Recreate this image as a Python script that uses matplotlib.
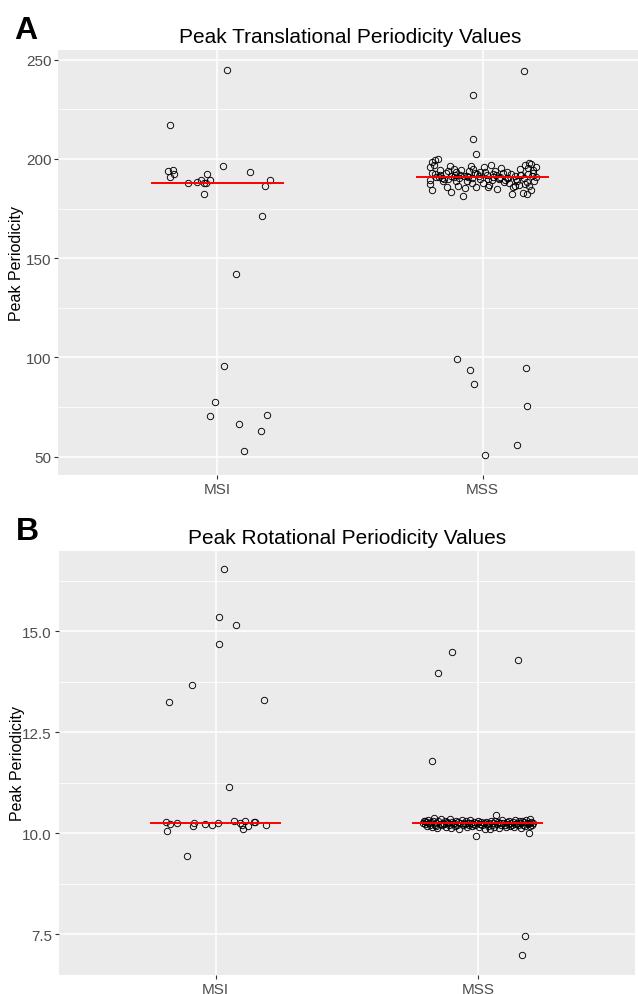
import numpy as np
import matplotlib
matplotlib.use("Agg")
import matplotlib.pyplot as plt
from matplotlib.ticker import MultipleLocator

plt.rcParams['font.family'] = ['Liberation Sans', 'DejaVu Sans']

# ---- data ----
groups = ['MSI', 'MSS']

# A: translational periodicity (jitter offset, value)
msi_trans_dx = [0.035, -0.179, -0.186, -0.165, -0.163, -0.179, -0.111, -0.075, -0.06, -0.05,
                -0.038, -0.029, -0.044, -0.049, 0.02, 0.125, 0.198, 0.178, 0.169, 0.07,
                0.024, -0.008, -0.026, 0.186, 0.081, 0.163, 0.099]
msi_trans_val = [244.8, 217.3, 193.9, 194.7, 192.2, 190.9, 187.7, 188.4, 189.5, 188.0,
                 192.4, 189.4, 187.9, 182.2, 196.3, 193.4, 189.5, 186.2, 171.3, 142.0,
                 95.7, 77.6, 70.5, 70.8, 66.5, 63.1, 53.0]

mss_trans_dx = [0.155, -0.035, -0.035, -0.025, -0.098, -0.049, 0.163, -0.032, 0.165, 0.128, 0.01,
                -0.19, -0.18, -0.17, -0.185, -0.2, -0.19, -0.175, -0.2, -0.18, -0.165,
                -0.19, -0.155, -0.16, -0.2, -0.15,
                -0.14, -0.13, -0.12, -0.11, -0.1, -0.135, -0.09, -0.085, -0.12, -0.105,
                -0.095, -0.145, -0.08, -0.125, -0.1,
                -0.07, -0.06, -0.05, -0.04, -0.065, -0.03, -0.02, -0.01, -0.045, -0.075,
                -0.055, -0.025, -0.035, -0.015, 0.0,
                0.01, 0.02, 0.03, 0.04, 0.05, 0.06, 0.07, 0.015, 0.035, 0.045,
                0.055, 0.065, 0.075, 0.025, 0.005,
                0.085, 0.09, 0.1, 0.11, 0.12, 0.13, 0.14, 0.095, 0.105, 0.115,
                0.125, 0.135, 0.145, 0.08, 0.15,
                0.16, 0.17, 0.18, 0.19, 0.2, 0.155, 0.165, 0.175, 0.185, 0.195,
                0.16, 0.17, 0.18, 0.19, 0.2, 0.175, 0.165,
                -0.16, -0.11, -0.06, -0.01, 0.04, 0.09, 0.14, 0.12, -0.04, 0.06,
                -0.13, 0.02]
mss_trans_val = [244.1, 232.0, 210.2, 202.5, 99.2, 93.8, 94.5, 86.4, 75.5, 55.7, 50.7,
                 198.5, 199.6, 200.2, 197.2, 195.8, 193.1, 191.0, 189.4, 192.2, 190.9,
                 184.2, 190.3, 194.6, 187.3, 188.9,
                 192.8, 189.7, 191.6, 195.2, 193.4, 185.9, 190.6, 192.1, 183.3, 191.9,
                 186.4, 190.1, 194.3, 196.4, 189.0,
                 191.5, 191.2, 193.9, 190.4, 185.3, 192.7, 192.6, 189.8, 196.7, 181.5,
                 190.9, 186.0, 194.8, 191.2, 187.9,
                 193.2, 190.0, 197.1, 192.4, 192.1, 190.6, 195.5, 191.8, 189.3, 194.0,
                 185.1, 190.7, 192.9, 187.0, 195.9,
                 189.6, 193.6, 187.8, 182.2, 191.3, 188.9, 194.9, 190.2, 192.4, 185.7,
                 189.9, 186.8, 191.7, 188.3, 183.1,
                 196.9, 195.6, 197.4, 194.2, 196.1, 190.5, 188.6, 186.2, 191.4, 189.1,
                 187.5, 192.3, 184.6, 193.0, 190.8, 198.0, 182.6,
                 192.0, 190.9, 189.1, 193.6, 191.0, 190.4, 192.0, 186.3, 188.0, 189.7,
                 193.8, 185.8]

# B: rotational periodicity
msi_rot_dx = [0.031, 0.013, 0.077, 0.013, -0.092, -0.179, 0.183, 0.051, -0.188, -0.176,
              -0.147, -0.083, -0.085, -0.041, -0.013, 0.008, 0.07, 0.092, 0.102, 0.111,
              0.103, 0.123, 0.145, 0.15, 0.191, -0.186, -0.108]
msi_rot_val = [16.53, 15.35, 15.15, 14.68, 13.67, 13.25, 13.30, 11.14, 10.27, 10.22,
               10.24, 10.25, 10.18, 10.22, 10.20, 10.25, 10.31, 10.25, 10.21, 10.31,
               10.11, 10.17, 10.28, 10.27, 10.20, 10.05, 9.43]

mss_rot_dx = [-0.097, -0.153, 0.154, -0.176, 0.181, 0.167,
              -0.21, -0.205, -0.2, -0.197, -0.193, -0.19, -0.186, -0.182, -0.178, -0.174,
              -0.17, -0.166, -0.162, -0.158, -0.154, -0.15, -0.146, -0.142, -0.138, -0.134,
              -0.13, -0.126, -0.122, -0.118, -0.114, -0.11, -0.106, -0.102, -0.098, -0.094,
              -0.09, -0.086, -0.082, -0.078, -0.074, -0.07, -0.066, -0.062, -0.058, -0.054,
              -0.05, -0.046, -0.042, -0.038, -0.034, -0.03, -0.026, -0.022, -0.018, -0.014,
              -0.01, -0.006, -0.002, 0.002, 0.006, 0.01, 0.014, 0.018, 0.022, 0.026,
              0.03, 0.034, 0.038, 0.042, 0.046, 0.05, 0.054, 0.058, 0.062, 0.066,
              0.07, 0.074, 0.078, 0.082, 0.086, 0.09, 0.094, 0.098, 0.102, 0.106,
              0.11, 0.114, 0.118, 0.122, 0.126, 0.13, 0.134, 0.138, 0.142, 0.146,
              0.15, 0.154, 0.158, 0.162, 0.166, 0.17, 0.174, 0.178, 0.182, 0.186,
              0.19, 0.194, 0.198, 0.202, 0.206, 0.21, 0.2, 0.185, 0.195, -0.2, -0.16]
mss_rot_val = [14.47, 13.97, 14.29, 11.79, 7.45, 6.99,
               10.26, 10.31, 10.22, 10.28, 10.18, 10.33, 10.24, 10.20, 10.27, 10.15,
               10.30, 10.38, 10.21, 10.25, 10.12, 10.29, 10.23, 10.34, 10.19, 10.26,
               10.22, 10.31, 10.16, 10.27, 10.24, 10.20, 10.35, 10.13, 10.28, 10.23,
               10.25, 10.18, 10.30, 10.21, 10.27, 10.10, 10.24, 10.32, 10.19, 10.26,
               10.22, 10.29, 10.15, 10.24, 10.20, 10.33, 10.26, 10.17, 10.23, 10.28,
               10.21, 9.93, 10.25, 10.30, 10.14, 10.22, 10.27, 10.19, 10.24, 10.11,
               10.28, 10.23, 10.17, 10.26, 10.09, 10.31, 10.20, 10.25, 10.15, 10.29,
               10.45, 10.22, 10.27, 10.13, 10.24, 10.19, 10.32, 10.26, 10.21, 10.16,
               10.28, 10.23, 10.30, 10.18, 10.25, 10.20, 10.27, 10.14, 10.33, 10.22,
               10.26, 10.19, 10.29, 10.24, 10.12, 10.31, 10.21, 10.27, 10.17, 10.25,
               10.23, 10.00, 10.34, 10.28, 10.20, 10.26, 10.18, 10.32, 10.24, 10.29, 10.17]

BG = '#EBEBEB'
TXT = '#4D4D4D'


def draw_panel(ax, series, title, major, ylim):
    ax.set_facecolor(BG)
    for s in ax.spines.values():
        s.set_visible(False)
    ax.set_axisbelow(True)
    ax.yaxis.set_major_locator(MultipleLocator(major))
    ax.yaxis.set_minor_locator(MultipleLocator(major / 2))
    ax.grid(which='major', color='white', lw=1.1)
    ax.grid(which='minor', axis='y', color='white', lw=0.55)
    ax.tick_params(which='minor', length=0)
    ax.tick_params(which='major', length=2.8, width=0.8, color='#333333',
                   labelcolor=TXT, labelsize=11, pad=2)

    for i, (dx, vals) in enumerate(series):
        pos = i + 1
        ax.plot(pos + np.array(dx), vals, 'o', ms=4.6, mfc='none', mec='black',
                mew=0.65, zorder=3)
        med = np.median(vals)
        ax.plot([pos - 0.25, pos + 0.25], [med, med], color='red', lw=1.4,
                solid_capstyle='butt', zorder=4)

    ax.set_xticks([1, 2])
    ax.set_xticklabels(groups)
    ax.set_xlim(0.4, 2.6)
    ax.set_ylim(*ylim)
    ax.set_title(title, fontsize=15, pad=6)
    ax.set_ylabel('Peak Periodicity', fontsize=11.5)
    ax.yaxis.set_label_coords(-0.058, 0.5)


fig = plt.figure(figsize=(6.38, 9.95), dpi=100)

ax1 = fig.add_axes([58 / 638, 519 / 995, 584 / 638, 425 / 995])
draw_panel(ax1, [(msi_trans_dx, msi_trans_val), (mss_trans_dx, mss_trans_val)],
           'Peak Translational Periodicity Values', 50, (40.8, 254.9))

ax2 = fig.add_axes([58.5 / 638, 19 / 995, 576.5 / 638, 424 / 995])
draw_panel(ax2, [(msi_rot_dx, msi_rot_val), (mss_rot_dx, mss_rot_val)],
           'Peak Rotational Periodicity Values', 2.5, (6.49, 16.98))

fig.text(14 / 638, 1 - 39 / 995, 'A', fontsize=23, fontweight='bold', ha='left', va='baseline')
fig.text(16 / 638, 1 - 540 / 995, 'B', fontsize=23, fontweight='bold', ha='left', va='baseline')

fig.savefig('out.png', dpi=100)
